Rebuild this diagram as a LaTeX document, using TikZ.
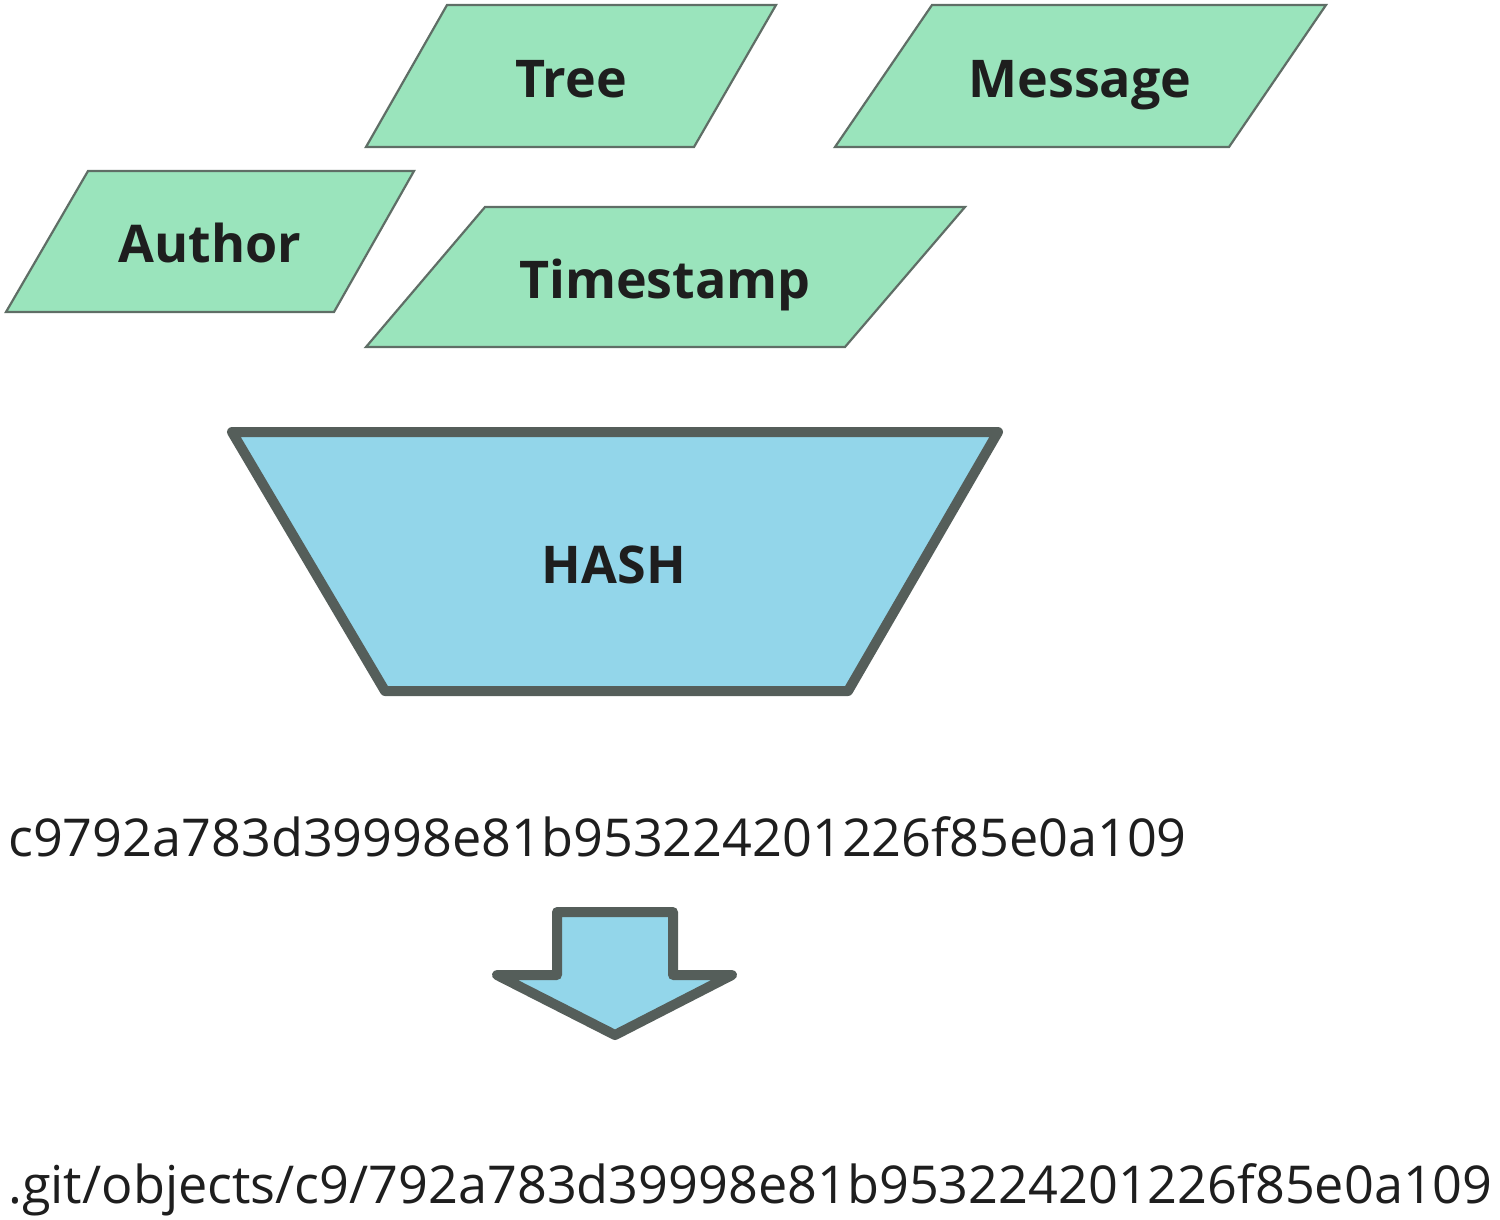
\documentclass[tikz,border=0pt]{standalone}
\usepackage{fontspec}
\setmainfont{Open Sans}
\definecolor{greenfill}{HTML}{9AE4BC}
\definecolor{greenline}{HTML}{5F6E66}
\definecolor{bluefill}{HTML}{93D6EA}
\definecolor{blueline}{HTML}{555E5A}
\definecolor{txt}{HTML}{1E1E1E}
\begin{document}
\begin{tikzpicture}[x=1pt,y=-1pt,
  para/.style={fill=greenfill,draw=greenline,line width=2.2pt,line join=miter},
  heavy/.style={fill=bluefill,draw=blueline,line width=10pt,line join=round},
  label/.style={inner sep=0pt,text=txt,anchor=base,font=\fontsize{52}{60}\selectfont\bfseries},
  hashtext/.style={inner sep=0pt,text=txt,font=\fontsize{52.2}{60}\selectfont,anchor=base west}]
\useasboundingbox (0,0) rectangle (1500,1219);
% parallelograms
\draw[para] (447,5) -- (776,5) -- (694,147) -- (366,147) -- cycle;
\node[label] (tree) at (571,97) {Tree};
\draw[para] (932,5) -- (1326,5) -- (1229,147) -- (835,147) -- cycle;
\node[label] (message) at (1080,97) {Message};
\draw[para] (88,171) -- (414,171) -- (334,312) -- (6,312) -- cycle;
\node[label] (author) at (210,262) {Author};
\draw[para] (485,207) -- (965,207) -- (845,347) -- (366,347) -- cycle;
\node[label] (timestamp) at (665,298) {Timestamp};
% hash trapezoid
\draw[heavy] (232,432) -- (998,432) -- (848,691) -- (385,691) -- cycle;
\node[label] (hash) at (614,583) {HASH};
% hash value
\node[hashtext] (value) at (8,856) {c9792a783d39998e81b953224201226f85e0a109};
% arrow
\draw[heavy] (557,912) -- (673,912) -- (673,975) -- (732,975) -- (615,1035) -- (497,975) -- (557,975) -- cycle;
\coordinate (arrowtip) at (615,1035);
% path
\node[hashtext] (path) at (8,1203) {.git/objects/c9/792a783d39998e81b953224201226f85e0a109};
\end{tikzpicture}
\end{document}
